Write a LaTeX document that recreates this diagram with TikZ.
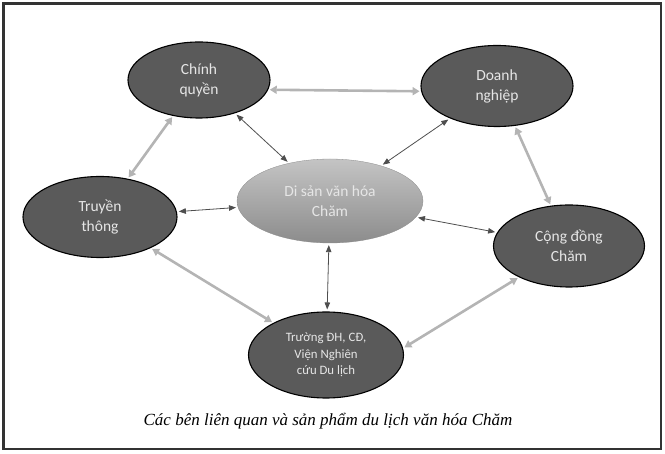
\documentclass[tikz,border=0pt]{standalone}
\usepackage{fontspec}
\setmainfont{Carlito}
\newfontfamily\capfont{Liberation Serif}
\usetikzlibrary{shapes.geometric,arrows.meta}
\definecolor{darkfill}{HTML}{5A5A5A}
\definecolor{txtcol}{HTML}{E6E6E6}
\definecolor{thickcol}{HTML}{B4B4B4}
\definecolor{thincol}{HTML}{4E4E4E}
\definecolor{framecol}{HTML}{333333}
\definecolor{hertop}{HTML}{C4C4C4}
\definecolor{herbot}{HTML}{8C8C8C}
\tikzset{
  actor/.style={ellipse, draw=black, line width=1.1pt, fill=darkfill, text=txtcol,
    align=center, inner sep=0pt, font=\fontsize{15.5}{20}\selectfont},
  heritage/.style={ellipse, top color=hertop, bottom color=herbot, draw=herbot, line width=0.3pt,
    text=txtcol, align=center, inner sep=0pt, font=\fontsize{15.5}{20}\selectfont},
  thicklink/.style={draw=thickcol, line width=2.6pt, {Triangle[length=7pt,width=8pt]}-{Triangle[length=7pt,width=8pt]}, shorten <=1.5pt, shorten >=1.5pt},
  thinlink/.style={draw=thincol, line width=0.8pt, {Triangle[length=7pt,width=5.5pt]}-{Triangle[length=7pt,width=5.5pt]}, shorten <=2pt, shorten >=2pt},
}
\begin{document}
\begin{tikzpicture}[x=1pt,y=-1pt]
\useasboundingbox (0,0) rectangle (665,454);
\draw[framecol, line width=2.2pt] (3.5,3.5) rectangle (661,449);

\node[actor, minimum width=142pt, minimum height=76pt] (cq) at (199,80) {Chính\\quyền};
\node[actor, minimum width=152pt, minimum height=81pt] (dn) at (497,86) {Doanh\\nghiệp};
\node[actor, minimum width=151pt, minimum height=82pt] (cd) at (569,246) {Cộng đồng\\Chăm};
\node[actor, minimum width=154pt, minimum height=81pt] (tt) at (100,217) {Truyền\\thông};
\node[actor, minimum width=155pt, minimum height=86pt, font=\fontsize{12.8}{16.5}\selectfont] (tr) at (326,355) {Trường ĐH, CĐ,\\Viện Nghiên\\cứu Du lịch};
\node[heritage, minimum width=186pt, minimum height=84pt] (ds) at (330,201) {Di sản văn hóa\\Chăm};

\draw[thicklink] (cq.-8) -- (dn.184);
\draw[thicklink] (cq) -- (tt);
\draw[thicklink] (dn) -- (cd);
\draw[thicklink] (tt) -- (tr);
\draw[thicklink] (cd.212) -- (tr.5);

\draw[thinlink] (cq) -- (ds);
\draw[thinlink] (dn) -- (ds);
\draw[thinlink] (tt) -- (ds);
\draw[thinlink] (cd) -- (ds);
\draw[thinlink] (tr) -- (ds);

\node[font=\capfont\itshape\fontsize{17}{19}\selectfont, text=black] (cap) at (328,421) {Các bên liên quan và sản phẩm du lịch văn hóa Chăm};
\end{tikzpicture}
\end{document}
